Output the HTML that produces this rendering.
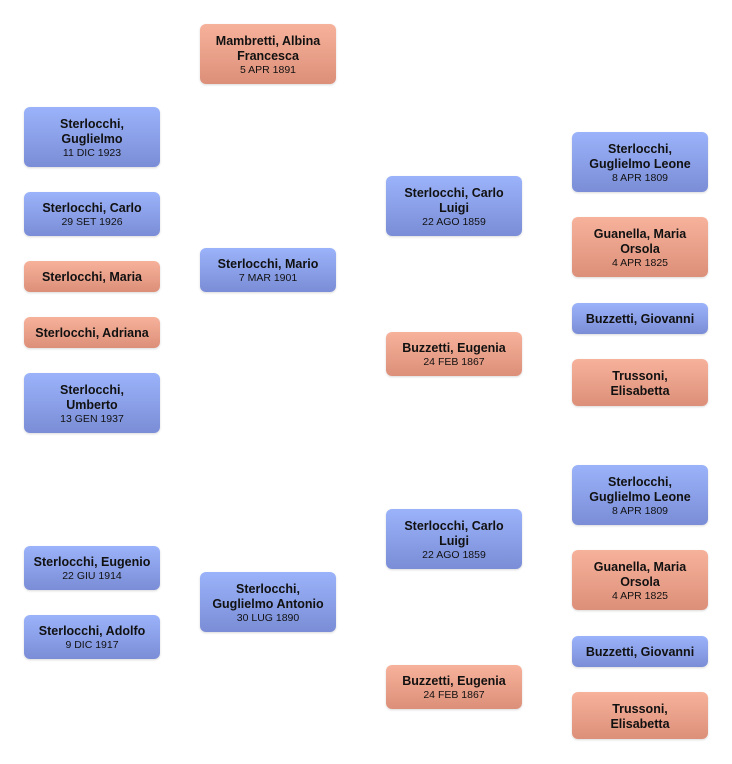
<!DOCTYPE html>
<html><head><meta charset="utf-8"><style>
body{margin:0;width:732px;height:764px;background:#fff;position:relative;font-family:"Liberation Sans",sans-serif;overflow:hidden}
.b{position:absolute;width:136px;border-radius:6px;display:flex;flex-direction:column;align-items:center;justify-content:center;text-align:center;color:#111;box-shadow:0 1px 2px rgba(0,0,0,.15);box-sizing:border-box;padding:2px 2px 0}
.m{background:linear-gradient(#9bb3fa,#7a8dd6)}
.f{background:linear-gradient(#f7b29b,#dc8f79)}
.n{font-weight:bold;font-size:12.5px;line-height:15px}
.d{font-size:10.5px;line-height:13px}
</style></head><body>
<div class="b f" style="left:200px;top:24px;height:60px"><div class="n">Mambretti, Albina<br>Francesca</div><div class="d">5 APR 1891</div></div>
<div class="b m" style="left:24px;top:107px;height:60px"><div class="n">Sterlocchi,<br>Guglielmo</div><div class="d">11 DIC 1923</div></div>
<div class="b m" style="left:24px;top:192px;height:44px"><div class="n">Sterlocchi, Carlo</div><div class="d">29 SET 1926</div></div>
<div class="b f" style="left:24px;top:261px;height:31px"><div class="n">Sterlocchi, Maria</div></div>
<div class="b f" style="left:24px;top:317px;height:31px"><div class="n">Sterlocchi, Adriana</div></div>
<div class="b m" style="left:24px;top:373px;height:60px"><div class="n">Sterlocchi,<br>Umberto</div><div class="d">13 GEN 1937</div></div>
<div class="b m" style="left:24px;top:546px;height:44px"><div class="n">Sterlocchi, Eugenio</div><div class="d">22 GIU 1914</div></div>
<div class="b m" style="left:24px;top:615px;height:44px"><div class="n">Sterlocchi, Adolfo</div><div class="d">9 DIC 1917</div></div>
<div class="b m" style="left:200px;top:248px;height:44px"><div class="n">Sterlocchi, Mario</div><div class="d">7 MAR 1901</div></div>
<div class="b m" style="left:200px;top:572px;height:60px"><div class="n">Sterlocchi,<br>Guglielmo Antonio</div><div class="d">30 LUG 1890</div></div>
<div class="b m" style="left:386px;top:176px;height:60px"><div class="n">Sterlocchi, Carlo<br>Luigi</div><div class="d">22 AGO 1859</div></div>
<div class="b f" style="left:386px;top:332px;height:44px"><div class="n">Buzzetti, Eugenia</div><div class="d">24 FEB 1867</div></div>
<div class="b m" style="left:386px;top:509px;height:60px"><div class="n">Sterlocchi, Carlo<br>Luigi</div><div class="d">22 AGO 1859</div></div>
<div class="b f" style="left:386px;top:665px;height:44px"><div class="n">Buzzetti, Eugenia</div><div class="d">24 FEB 1867</div></div>
<div class="b m" style="left:572px;top:132px;height:60px"><div class="n">Sterlocchi,<br>Guglielmo Leone</div><div class="d">8 APR 1809</div></div>
<div class="b f" style="left:572px;top:217px;height:60px"><div class="n">Guanella, Maria<br>Orsola</div><div class="d">4 APR 1825</div></div>
<div class="b m" style="left:572px;top:303px;height:31px"><div class="n">Buzzetti, Giovanni</div></div>
<div class="b f" style="left:572px;top:359px;height:47px"><div class="n">Trussoni,<br>Elisabetta</div></div>
<div class="b m" style="left:572px;top:465px;height:60px"><div class="n">Sterlocchi,<br>Guglielmo Leone</div><div class="d">8 APR 1809</div></div>
<div class="b f" style="left:572px;top:550px;height:60px"><div class="n">Guanella, Maria<br>Orsola</div><div class="d">4 APR 1825</div></div>
<div class="b m" style="left:572px;top:636px;height:31px"><div class="n">Buzzetti, Giovanni</div></div>
<div class="b f" style="left:572px;top:692px;height:47px"><div class="n">Trussoni,<br>Elisabetta</div></div>
</body></html>
